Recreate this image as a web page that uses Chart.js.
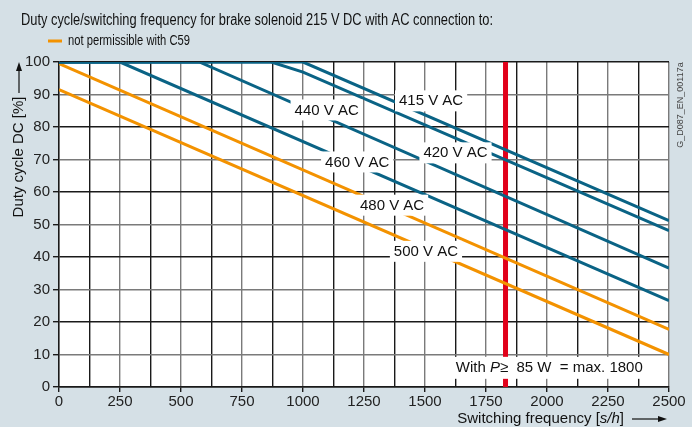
<!DOCTYPE html>
<html>
<head>
<meta charset="utf-8">
<script src="https://cdn.jsdelivr.net/npm/chart.js@4.4.1/dist/chart.umd.min.js"></script>
<style>
  html, body { margin: 0; padding: 0; background: #d5e0e6; }
  #wrap { width: 692px; height: 427px; }
</style>
</head>
<body>
<div id="wrap"><canvas id="c" width="692" height="427"></canvas></div>
<script>
// ── Datos ────────────────────────────────────────────────────────────────────
const freq415 = [0, 1000, 2500];
const duty415 = [100, 100, 51.2];
const freq420 = [0, 870, 1000, 2500];
const duty420 = [100, 100, 96.9, 48.1];
const freq440 = [0, 575, 2500];
const duty440 = [100, 100, 36.6];
const freq460 = [0, 250, 2500];
const duty460 = [100, 100, 26.6];
const freq480 = [0, 2500];
const duty480 = [99.5, 17.7];
const freq500 = [0, 2500];
const duty500 = [91.5, 10];

const limitFreq = [1830, 1830];
const limitDuty = [0, 100];

const lineLabels = ['415 V AC', '420 V AC', '440 V AC', '460 V AC', '480 V AC', '500 V AC'];
const labelFreq  = [1525, 1625, 1097, 1222, 1365, 1504];
const labelDuty  = [88.2, 72.2, 85.4, 69.4, 56.1, 41.9];

const xTicks = [0, 250, 500, 750, 1000, 1250, 1500, 1750, 2000, 2250, 2500];

const TEAL   = '#0a6385';
const ORANGE = '#f39200';
const RED    = '#e1001a';
const FONT   = '"Liberation Sans", Arial, sans-serif';
const DARK   = '#1a1a1a';
const GRAY   = '#7a7a7a';

function pts(xs, ys) {
    return xs.map((x, i) => ({ x: x, y: ys[i] }));
}

function serie(xs, ys, color, width) {
    return {
        data: pts(xs, ys),
        showLine: true,
        borderColor: color,
        borderWidth: width || 3,
        pointRadius: 0,
        tension: 0,
        fill: false,
    };
}

// texto comprimido horizontalmente hasta un ancho dado
function textoAncho(c, t, x, y, ancho) {
    const w = c.measureText(t).width;
    c.save();
    c.translate(x, y);
    c.scale(Math.min(1, ancho / w), 1);
    c.fillText(t, 0, 0);
    c.restore();
}

// ── Plugin: fondo blanco del área y textos ───────────────────────────────────
const decor = {
    id: 'decor',
    beforeDraw(chart) {
        const a = chart.chartArea;
        const c = chart.ctx;
        c.save();
        c.fillStyle = '#ffffff';
        c.fillRect(a.left, a.top, a.right - a.left, a.bottom - a.top);
        c.restore();
    },
    afterDraw(chart) {
        const c  = chart.ctx;
        const xs = chart.scales.x;
        const ys = chart.scales.y;
        c.save();
        c.textBaseline = 'middle';

        // título
        c.fillStyle = '#111';
        c.font = `16px ${FONT}`;
        c.textAlign = 'left';
        textoAncho(c, 'Duty cycle/switching frequency for brake solenoid 215 V DC with AC connection to:', 21, 21, 472);

        // leyenda
        c.strokeStyle = ORANGE;
        c.lineWidth = 3;
        c.beginPath();
        c.moveTo(48, 41); c.lineTo(62, 41);
        c.stroke();
        c.font = `14px ${FONT}`;
        textoAncho(c, 'not permissible with C59', 68, 41, 122);

        // etiquetas de curvas
        c.font = `15px ${FONT}`;
        c.textAlign = 'center';
        lineLabels.forEach((t, i) => {
            const px = xs.getPixelForValue(labelFreq[i]);
            const py = ys.getPixelForValue(labelDuty[i]);
            const w  = c.measureText(t).width + 8;
            c.fillStyle = '#fff';
            c.fillRect(px - w / 2, py - 10, w, 21);
            c.fillStyle = '#111';
            c.fillText(t, px, py + 1);
        });

        // nota de potencia
        const nx = xs.getPixelForValue(1626);
        const ny = ys.getPixelForValue(5.9);
        c.textAlign = 'left';
        const p1 = 'With ', p2 = 'P', p3 = '\u2265  85 W  = max. 1800';
        c.font = `15px ${FONT}`;
        const w1 = c.measureText(p1).width;
        const w3 = c.measureText(p3).width;
        c.font = `italic 15px ${FONT}`;
        const w2 = c.measureText(p2).width;
        c.fillStyle = '#fff';
        c.fillRect(nx - 4, ny - 11, w1 + w2 + w3 + 8, 22);
        c.fillStyle = '#111';
        c.font = `15px ${FONT}`;
        c.fillText(p1, nx, ny);
        c.font = `italic 15px ${FONT}`;
        c.fillText(p2, nx + w1, ny);
        c.font = `15px ${FONT}`;
        c.fillText(p3, nx + w1 + w2, ny);

        // título eje Y con flecha
        c.save();
        c.translate(19, 157);
        c.rotate(-Math.PI / 2);
        c.textAlign = 'center';
        c.font = `15px ${FONT}`;
        c.fillStyle = '#111';
        c.fillText('Duty cycle DC [%]', 0, 0);
        c.restore();
        c.strokeStyle = '#111';
        c.fillStyle = '#111';
        c.lineWidth = 1.2;
        c.beginPath();
        c.moveTo(19, 93); c.lineTo(19, 68);
        c.stroke();
        c.beginPath();
        c.moveTo(19, 62); c.lineTo(16, 71); c.lineTo(22, 71); c.closePath();
        c.fill();

        // título eje X con flecha
        const s1 = 'Switching frequency [', s2 = 's/h', s3 = ']';
        c.textAlign = 'left';
        c.font = `15px ${FONT}`;
        const a1 = c.measureText(s1).width;
        c.font = `italic 15px ${FONT}`;
        const a2 = c.measureText(s2).width;
        c.font = `15px ${FONT}`;
        const a3 = c.measureText(s3).width;
        const ty = 419;
        let tx = 624 - (a1 + a2 + a3);
        c.fillText(s1, tx, ty);
        c.font = `italic 15px ${FONT}`;
        c.fillText(s2, tx + a1, ty);
        c.font = `15px ${FONT}`;
        c.fillText(s3, tx + a1 + a2, ty);
        c.beginPath();
        c.moveTo(632, ty); c.lineTo(660, ty);
        c.stroke();
        c.beginPath();
        c.moveTo(667, ty); c.lineTo(658, ty - 3); c.lineTo(658, ty + 3); c.closePath();
        c.fill();

        // código de figura
        c.save();
        c.translate(681, 105);
        c.rotate(-Math.PI / 2);
        c.textAlign = 'center';
        c.font = `9px ${FONT}`;
        c.fillStyle = '#444';
        c.fillText('G_D087_EN_00117a', 0, 0);
        c.restore();

        c.restore();
    }
};

new Chart(document.getElementById('c'), {
    type: 'scatter',
    data: {
        datasets: [
            serie(freq415, duty415, TEAL),
            serie(freq420, duty420, TEAL),
            serie(freq440, duty440, TEAL),
            serie(freq460, duty460, TEAL),
            serie(freq480, duty480, ORANGE),
            serie(freq500, duty500, ORANGE),
            serie(limitFreq, limitDuty, RED, 5),
        ]
    },
    options: {
        responsive: false,
        devicePixelRatio: 1,
        animation: false,
        layout: { padding: { top: 62, right: 23, left: 0, bottom: 0 } },
        plugins: { legend: { display: false }, tooltip: { enabled: false } },
        scales: {
            x: {
                type: 'linear',
                min: 0, max: 2500,
                afterFit: s => { s.height = 40; },
                border: { color: DARK, width: 1.5 },
                grid: {
                    color: ctx => (ctx.tick.value % 250 === 0 ? GRAY : DARK),
                    tickColor: ctx => (ctx.tick.value % 250 === 0 ? DARK : 'rgba(0,0,0,0)'),
                    lineWidth: 1.4,
                    tickLength: 5,
                },
                ticks: {
                    stepSize: 125,
                    autoSkip: false,
                    maxRotation: 0,
                    padding: 1,
                    color: '#222',
                    font: { family: FONT, size: 15 },
                    callback: v => (xTicks.includes(v) ? v : ''),
                }
            },
            y: {
                min: 0, max: 100,
                afterFit: s => { s.width = 59; },
                border: { color: DARK, width: 1.5 },
                grid: {
                    color: ctx => (ctx.tick.value % 20 === 0 ? DARK : GRAY),
                    tickColor: DARK,
                    lineWidth: 1.4,
                    tickLength: 6,
                },
                ticks: {
                    stepSize: 10,
                    padding: 3,
                    color: '#222',
                    font: { family: FONT, size: 15 },
                }
            }
        }
    },
    plugins: [decor]
});
</script>
</body>
</html>
